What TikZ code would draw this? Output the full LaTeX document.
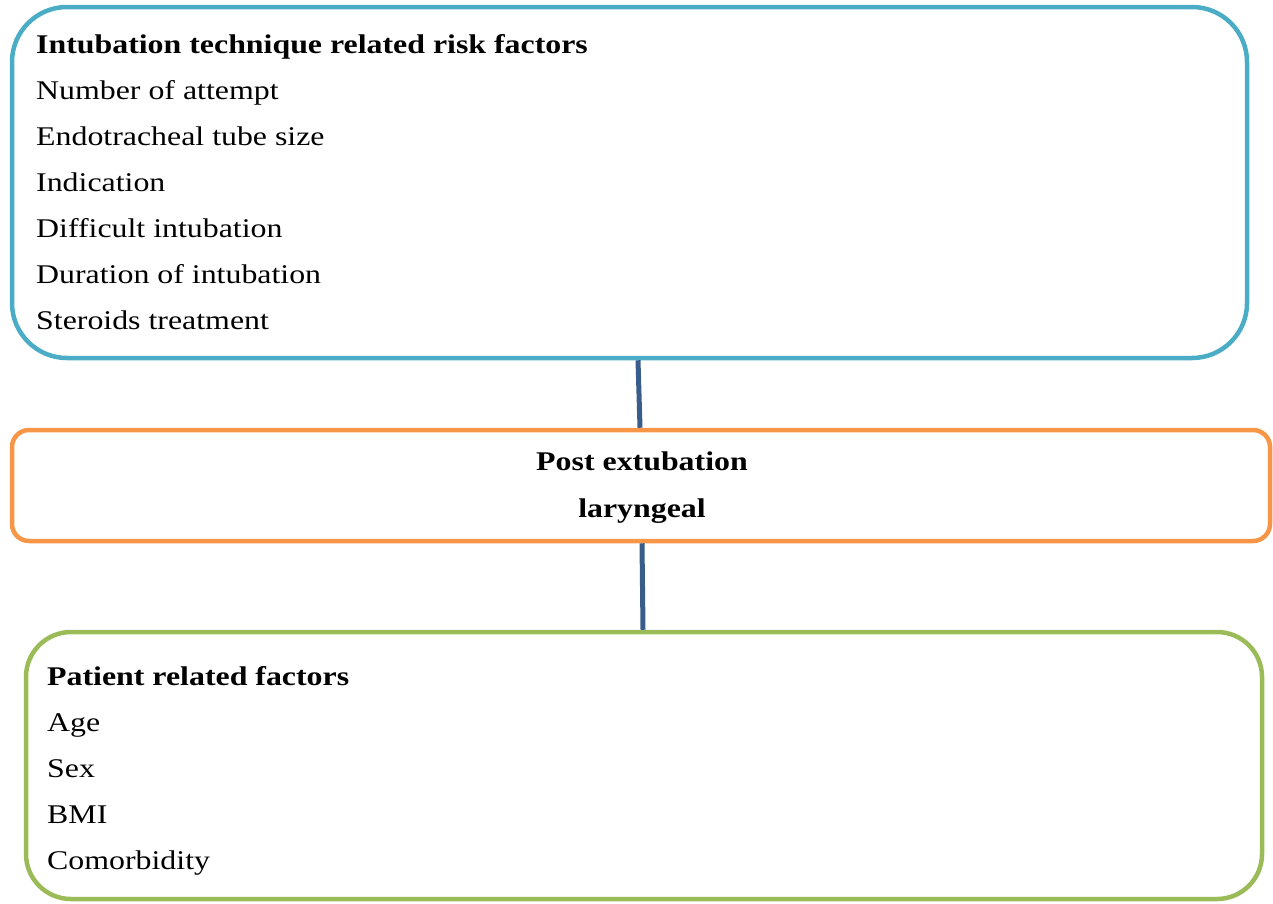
\documentclass[tikz,border=0pt]{standalone}
\usepackage{fontspec}
\setmainfont{Liberation Serif}[FakeStretch=1.18]
\usetikzlibrary{positioning}
\definecolor{techblue}{RGB}{75,172,198}
\definecolor{postorange}{RGB}{247,150,70}
\definecolor{patgreen}{RGB}{155,187,89}
\definecolor{linkc}{RGB}{56,93,138}

\begin{document}
\begin{tikzpicture}[x=1pt, y=-1pt,
  box/.style={draw, line width=4.5pt, inner sep=0pt},
  item/.style={anchor=base west, inner sep=0pt, font=\fontsize{27}{46}\selectfont},
  head/.style={item, font=\fontsize{27}{46}\selectfont\bfseries},
  link/.style={linkc, line width=5pt}]
\useasboundingbox (0,0) rectangle (1273,903);
% boxes
\node[box, draw=techblue, rounded corners=55pt, minimum width=1235pt, minimum height=351pt] (techbox) at (629.5,182.5) {};
\node[box, draw=postorange, rounded corners=17pt, minimum width=1258pt, minimum height=111pt] (postbox) at (641,485.5) {};
\node[box, draw=patgreen, rounded corners=45pt, minimum width=1236pt, minimum height=267pt] (patbox) at (644,765.5) {};
% intubation technique factors
\node[head] (techhead) at (36,53) {Intubation technique related risk factors};
\foreach \txt [count=\i] in {Number of attempt, Endotracheal tube size, Indication, Difficult intubation, Duration of intubation, Steroids treatment}
  \node[item] (tech\i) at (36,53+46*\i) {\txt};
% outcome
\node[head, anchor=base] (post1) at (642,470) {Post extubation};
\node[head, anchor=base] (post2) at (642,517) {laryngeal};
% patient factors
\node[head] (pathead) at (47,685) {Patient related factors};
\foreach \txt [count=\i] in {Age, Sex, BMI, Comorbidity}
  \node[item] (pat\i) at (47,685+46*\i) {\txt};
% connectors
\draw[link] ([xshift=8.5pt]techbox.south) -- ([xshift=-1pt]postbox.north);
\draw[link] ([xshift=1pt]postbox.south) -- ([xshift=-1pt]patbox.north);
\end{tikzpicture}
\end{document}
